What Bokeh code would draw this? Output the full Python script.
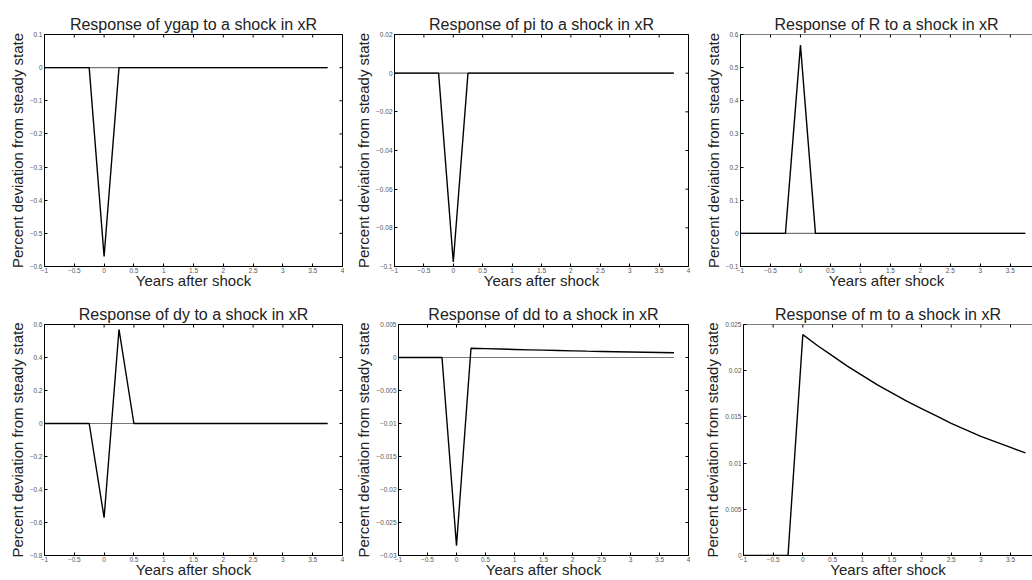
import math
from bokeh.plotting import figure
from bokeh.layouts import row, column, Spacer
from bokeh.models import FixedTicker, Range1d, CustomJSTickFormatter, Span
from bokeh.embed import file_html
from bokeh.resources import INLINE

# ---------------- data ----------------
quarters = [-1.0, -0.75, -0.5, -0.25, 0.0, 0.25, 0.5, 0.75, 1.0, 1.25,
            1.5, 1.75, 2.0, 2.25, 2.5, 2.75, 3.0, 3.25, 3.5, 3.75]
steady = [0.0, 0.0, 0.0, 0.0, 0.0, 0.0, 0.0, 0.0, 0.0, 0.0,
          0.0, 0.0, 0.0, 0.0, 0.0, 0.0, 0.0, 0.0, 0.0, 0.0]

ygap = [0.0, 0.0, 0.0, 0.0, -0.57, 0.0, 0.0, 0.0, 0.0, 0.0,
        0.0, 0.0, 0.0, 0.0, 0.0, 0.0, 0.0, 0.0, 0.0, 0.0]
pi = [0.0, 0.0, 0.0, 0.0, -0.0977, 0.0, 0.0, 0.0, 0.0, 0.0,
      0.0, 0.0, 0.0, 0.0, 0.0, 0.0, 0.0, 0.0, 0.0, 0.0]
R = [0.0, 0.0, 0.0, 0.0, 0.568, 0.0, 0.0, 0.0, 0.0, 0.0,
     0.0, 0.0, 0.0, 0.0, 0.0, 0.0, 0.0, 0.0, 0.0, 0.0]
dy = [0.0, 0.0, 0.0, 0.0, -0.571, 0.570, 0.0, 0.0, 0.0, 0.0,
      0.0, 0.0, 0.0, 0.0, 0.0, 0.0, 0.0, 0.0, 0.0, 0.0]
dd = [0.0, 0.0, 0.0, 0.0, -0.0285, 0.00140, 0.00134, 0.00128, 0.00122, 0.00116,
      0.00111, 0.00106, 0.00101, 0.00096, 0.00092, 0.00088, 0.00084, 0.00080, 0.00076, 0.00072]
m = [0.0, 0.0, 0.0, 0.0, 0.0239, 0.0227, 0.0216, 0.0205, 0.0195, 0.0185,
     0.0176, 0.0167, 0.0159, 0.0151, 0.0143, 0.0136, 0.0129, 0.0123, 0.0117, 0.0111]

variables = ["ygap", "pi", "R", "dy", "dd", "m"]
series = [ygap, pi, R, dy, dd, m]

x_ticks = [-1.0, -0.5, 0.0, 0.5, 1.0, 1.5, 2.0, 2.5, 3.0, 3.5, 4.0]
x_tick_labels = ["\u22121", "\u22120.5", "0", "0.5", "1", "1.5", "2", "2.5", "3", "3.5", "4"]

y_ranges = [(-0.6, 0.1), (-0.1, 0.02), (-0.1, 0.6), (-0.8, 0.6), (-0.03, 0.005), (0.0, 0.025)]
y_ticks = [
    [-0.6, -0.5, -0.4, -0.3, -0.2, -0.1, 0.0, 0.1],
    [-0.1, -0.08, -0.06, -0.04, -0.02, 0.0, 0.02],
    [-0.1, 0.0, 0.1, 0.2, 0.3, 0.4, 0.5, 0.6],
    [-0.8, -0.6, -0.4, -0.2, 0.0, 0.2, 0.4, 0.6],
    [-0.03, -0.025, -0.02, -0.015, -0.01, -0.005, 0.0, 0.005],
    [0.0, 0.005, 0.01, 0.015, 0.02, 0.025],
]
y_tick_labels = [
    ["\u22120.6", "\u22120.5", "\u22120.4", "\u22120.3", "\u22120.2", "\u22120.1", "0", "0.1"],
    ["\u22120.1", "\u22120.08", "\u22120.06", "\u22120.04", "\u22120.02", "0", "0.02"],
    ["\u22120.1", "0", "0.1", "0.2", "0.3", "0.4", "0.5", "0.6"],
    ["\u22120.8", "\u22120.6", "\u22120.4", "\u22120.2", "0", "0.2", "0.4", "0.6"],
    ["\u22120.03", "\u22120.025", "\u22120.02", "\u22120.015", "\u22120.01", "\u22120.005", "0", "0.005"],
    ["0", "0.005", "0.01", "0.015", "0.02", "0.025"],
]

x_label = "Years after shock"
y_label = "Percent deviation from steady state"

# ---------------- layout (pixels) ----------------
# width, height, border left, right, top, bottom, x end, right edge visible
layout = [
    (339, 285, 39, 2, 26, 25, 4.0, True),
    (338, 285, 42, 2, 28, 25, 4.0, True),
    (331, 285, 39, 0, 26, 25, 3.87, False),
    (339, 285, 39, 2, 26, 25, 4.0, True),
    (340, 285, 48, 2, 29, 25, 4.0, True),
    (331, 285, 41, 0, 27, 25, 3.87, False),
]
left_pad = 5
gaps_row1 = [8, 11]
gaps_row2 = [6, 11]
top_pad = 6
row_gap = 4

FONT = "Liberation Sans"


def make_formatter(vals, labs):
    return CustomJSTickFormatter(args=dict(vals=vals, labs=labs), code="""
        let best = 0, d = Infinity;
        for (let i = 0; i < vals.length; i++) {
            const e = Math.abs(vals[i] - tick);
            if (e < d) { d = e; best = i; }
        }
        return labs[best];
    """)


def style_axis(ax):
    ax.major_tick_in = 3
    ax.major_tick_out = 0
    ax.minor_tick_line_color = None
    ax.axis_line_color = "black"
    ax.axis_line_width = 1
    ax.major_tick_line_color = "black"
    ax.major_label_text_font = FONT
    ax.major_label_text_color = "#555555"
    ax.major_label_text_font_size = "6.5px"
    ax.axis_label_text_font = FONT
    ax.axis_label_text_font_size = "15px"
    ax.axis_label_text_font_style = "normal"
    ax.axis_label_text_color = "#222222"


def make_panel(i):
    w, h, bl, br, bt, bb, xend, right_edge = layout[i]
    ymin, ymax = y_ranges[i]
    p = figure(width=w, height=h, x_range=Range1d(-1.0, xend), y_range=Range1d(ymin, ymax),
               output_backend="svg", toolbar_location=None,
               min_border_left=bl, min_border_right=br, min_border_top=bt, min_border_bottom=bb)
    p.title.text = "Response of %s to a shock in xR" % variables[i]
    p.title.align = "center"
    p.title.text_font = FONT
    p.title.text_font_size = "16px"
    p.title.text_font_style = "normal"
    p.title.text_color = "#222222"
    p.title.standoff = 4
    p.grid.visible = False
    p.background_fill_color = "white"
    p.border_fill_color = "white"
    if right_edge:
        p.outline_line_color = "black"
        p.outline_line_width = 1
    else:
        p.outline_line_color = None
        p.add_layout(Span(location=ymax, dimension="width", line_color="black", line_width=1))

    xa = p.xaxis[0]
    xa.ticker = FixedTicker(ticks=x_ticks)
    xa.formatter = make_formatter(x_ticks, x_tick_labels)
    style_axis(xa)
    xa.major_label_standoff = 1
    xa.axis_label = x_label
    xa.axis_label_standoff = -4

    ya = p.yaxis[0]
    ya.ticker = FixedTicker(ticks=y_ticks[i])
    ya.formatter = make_formatter(y_ticks[i], y_tick_labels[i])
    style_axis(ya)
    ya.major_label_standoff = 2
    ya.axis_label = y_label
    ya.axis_label_standoff = 1

    # inward tick marks on the top edge (and right edge where it is visible)
    p.scatter(x_ticks, [ymax] * len(x_ticks), marker="dash", size=6, angle=math.pi / 2,
              line_color="black", line_width=1)
    if right_edge:
        p.scatter([xend] * len(y_ticks[i]), y_ticks[i], marker="dash", size=6,
                  line_color="black", line_width=1)

    p.line(quarters, steady, line_color="#777777", line_width=1.2)
    p.line(quarters, series[i], line_color="black", line_width=1.4)
    return p


panels = [make_panel(i) for i in range(6)]
row1 = row(Spacer(width=left_pad), panels[0], Spacer(width=gaps_row1[0]), panels[1],
           Spacer(width=gaps_row1[1]), panels[2])
row2 = row(Spacer(width=left_pad), panels[3], Spacer(width=gaps_row2[0]), panels[4],
           Spacer(width=gaps_row2[1]), panels[5])
layout_obj = column(Spacer(height=top_pad), row1, Spacer(height=row_gap), row2)

open("out.html", "w").write(file_html(layout_obj, INLINE))
